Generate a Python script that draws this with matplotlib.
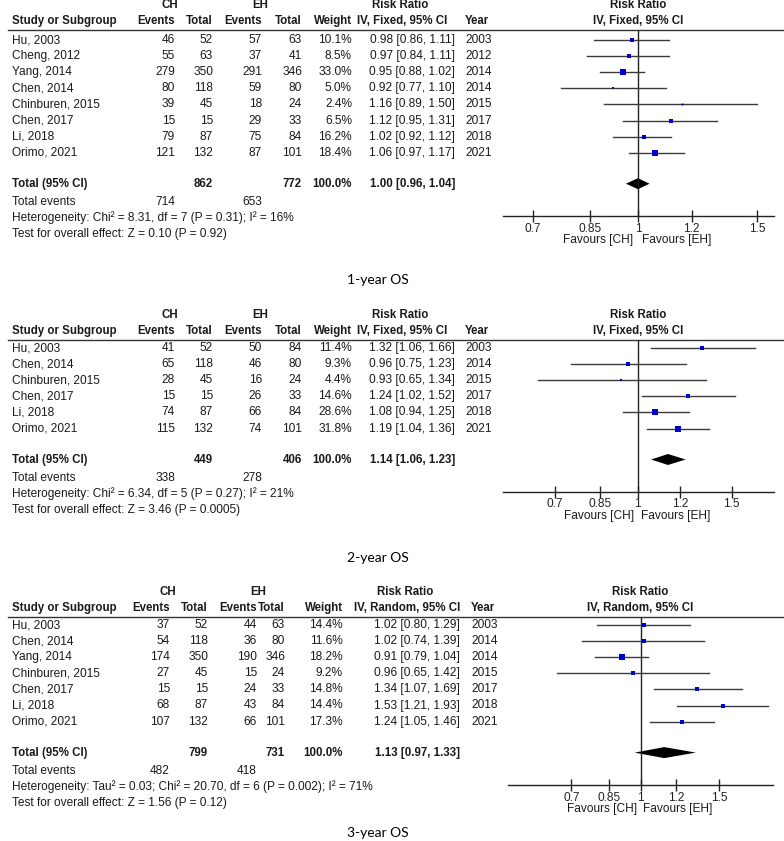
import numpy as np
import matplotlib
matplotlib.use("Agg")
import matplotlib.pyplot as plt
from matplotlib.transforms import blended_transform_factory

plt.rcParams['font.family'] = ['Liberation Sans', 'DejaVu Sans']
plt.rcParams['font.size'] = 8.6

W, H = 784, 841

# ---- data: 1-year OS ----
p1_study = ["Hu, 2003", "Cheng, 2012", "Yang, 2014", "Chen, 2014", "Chinburen, 2015",
            "Chen, 2017", "Li, 2018", "Orimo, 2021"]
p1_ch_ev = [46, 55, 279, 80, 39, 15, 79, 121]
p1_ch_tot = [52, 63, 350, 118, 45, 15, 87, 132]
p1_eh_ev = [57, 37, 291, 59, 18, 29, 75, 87]
p1_eh_tot = [63, 41, 346, 80, 24, 33, 84, 101]
p1_weight = [10.1, 8.5, 33.0, 5.0, 2.4, 6.5, 16.2, 18.4]
p1_rr = [0.98, 0.97, 0.95, 0.92, 1.16, 1.12, 1.02, 1.06]
p1_lo = [0.86, 0.84, 0.88, 0.77, 0.89, 0.95, 0.92, 0.97]
p1_hi = [1.11, 1.11, 1.02, 1.10, 1.50, 1.31, 1.12, 1.17]
p1_year = [2003, 2012, 2014, 2014, 2015, 2017, 2018, 2021]
p1_total = [862, 772, 1.00, 0.96, 1.04]
p1_events = [714, 653]
p1_het = "Heterogeneity: Chi\u00b2 = 8.31, df = 7 (P = 0.31); I\u00b2 = 16%"
p1_test = "Test for overall effect: Z = 0.10 (P = 0.92)"

# ---- data: 2-year OS ----
p2_study = ["Hu, 2003", "Chen, 2014", "Chinburen, 2015", "Chen, 2017", "Li, 2018", "Orimo, 2021"]
p2_ch_ev = [41, 65, 28, 15, 74, 115]
p2_ch_tot = [52, 118, 45, 15, 87, 132]
p2_eh_ev = [50, 46, 16, 26, 66, 74]
p2_eh_tot = [84, 80, 24, 33, 84, 101]
p2_weight = [11.4, 9.3, 4.4, 14.6, 28.6, 31.8]
p2_rr = [1.32, 0.96, 0.93, 1.24, 1.08, 1.19]
p2_lo = [1.06, 0.75, 0.65, 1.02, 0.94, 1.04]
p2_hi = [1.66, 1.23, 1.34, 1.52, 1.25, 1.36]
p2_year = [2003, 2014, 2015, 2017, 2018, 2021]
p2_total = [449, 406, 1.14, 1.06, 1.23]
p2_events = [338, 278]
p2_het = "Heterogeneity: Chi\u00b2 = 6.34, df = 5 (P = 0.27); I\u00b2 = 21%"
p2_test = "Test for overall effect: Z = 3.46 (P = 0.0005)"

# ---- data: 3-year OS ----
p3_study = ["Hu, 2003", "Chen, 2014", "Yang, 2014", "Chinburen, 2015", "Chen, 2017",
            "Li, 2018", "Orimo, 2021"]
p3_ch_ev = [37, 54, 174, 27, 15, 68, 107]
p3_ch_tot = [52, 118, 350, 45, 15, 87, 132]
p3_eh_ev = [44, 36, 190, 15, 24, 43, 66]
p3_eh_tot = [63, 80, 346, 24, 33, 84, 101]
p3_weight = [14.4, 11.6, 18.2, 9.2, 14.8, 14.4, 17.3]
p3_rr = [1.02, 1.02, 0.91, 0.96, 1.34, 1.53, 1.24]
p3_lo = [0.80, 0.74, 0.79, 0.65, 1.07, 1.21, 1.05]
p3_hi = [1.29, 1.39, 1.04, 1.42, 1.69, 1.93, 1.46]
p3_year = [2003, 2014, 2014, 2015, 2017, 2018, 2021]
p3_total = [799, 731, 1.13, 0.97, 1.33]
p3_events = [482, 418]
p3_het = "Heterogeneity: Tau\u00b2 = 0.03; Chi\u00b2 = 20.70, df = 6 (P = 0.002); I\u00b2 = 71%"
p3_test = "Test for overall effect: Z = 1.56 (P = 0.12)"

tick_vals = [0.7, 0.85, 1, 1.2, 1.5]
tick_labels = ["0.7", "0.85", "1", "1.2", "1.5"]

panels = [
    dict(study=p1_study, ch_ev=p1_ch_ev, ch_tot=p1_ch_tot, eh_ev=p1_eh_ev, eh_tot=p1_eh_tot,
         weight=p1_weight, rr=p1_rr, lo=p1_lo, hi=p1_hi, year=p1_year, total=p1_total,
         events=p1_events, het=p1_het, test=p1_test, method="IV, Fixed, 95% CI",
         title="1-year OS", top=5, row0=40, title_y=280, xlim=(0.632, 1.588),
         ax_x=(503, 774), cols=(175, 213, 262, 302, 352, 455, 465), ch_x=170, eh_x=260),
    dict(study=p2_study, ch_ev=p2_ch_ev, ch_tot=p2_ch_tot, eh_ev=p2_eh_ev, eh_tot=p2_eh_tot,
         weight=p2_weight, rr=p2_rr, lo=p2_lo, hi=p2_hi, year=p2_year, total=p2_total,
         events=p2_events, het=p2_het, test=p2_test, method="IV, Fixed, 95% CI",
         title="2-year OS", top=315, row0=348, title_y=558, xlim=(0.56, 1.80),
         ax_x=(503, 774), cols=(175, 213, 262, 302, 352, 455, 465), ch_x=170, eh_x=260),
    dict(study=p3_study, ch_ev=p3_ch_ev, ch_tot=p3_ch_tot, eh_ev=p3_eh_ev, eh_tot=p3_eh_tot,
         weight=p3_weight, rr=p3_rr, lo=p3_lo, hi=p3_hi, year=p3_year, total=p3_total,
         events=p3_events, het=p3_het, test=p3_test, method="IV, Random, 95% CI",
         title="3-year OS", top=592, row0=625, title_y=833, xlim=(0.505, 1.98),
         ax_x=(508, 773), cols=(170, 208, 257, 285, 343, 460, 471), ch_x=168, eh_x=258),
]

fig = plt.figure(figsize=(W / 100, H / 100), dpi=100, facecolor='white')
ov = fig.add_axes([0, 0, 1, 1])
ov.set_xlim(0, W)
ov.set_ylim(H, 0)
ov.axis('off')

txt = '#1a1a1a'
bsz = 8.3
step = 16.1

for p in panels:
    n = len(p['study'])
    top = p['top']
    hdr = top + 16
    line_y = top + 25
    rows = [p['row0'] + i * step for i in range(n)]
    tot_y = rows[-1] + 31
    ev_y = tot_y + 18
    het_y = ev_y + 16
    test_y = het_y + 16
    axis_y = rows[-1] + 63
    c_chev, c_chtot, c_ehev, c_ehtot, c_w, c_rr, c_yr = p['cols']

    # header
    bold = dict(va='center', weight='bold', color=txt, fontsize=bsz)
    ov.text(p['ch_x'], top, "CH", ha='center', **bold)
    ov.text(p['eh_x'], top, "EH", ha='center', **bold)
    ov.text(c_rr - 55, top, "Risk Ratio", ha='center', **bold)
    ax_mid = (p['ax_x'][0] + p['ax_x'][1]) / 2
    ov.text(ax_mid, top, "Risk Ratio", ha='center', **bold)
    ov.text(12, hdr, "Study or Subgroup", ha='left', **bold)
    for x, s in [(c_chev, "Events"), (c_chtot, "Total"), (c_ehev, "Events"),
                 (c_ehtot, "Total"), (c_w, "Weight")]:
        ov.text(x, hdr, s, ha='right', **bold)
    ov.text(c_rr - 53, hdr, p['method'], ha='center', **bold)
    ov.text(c_yr, hdr, "Year", ha='left', **bold)
    ov.text(ax_mid, hdr, p['method'], ha='center', **bold)
    ov.plot([8, W], [line_y, line_y], color='#333333', lw=1)

    # study rows
    for i in range(n):
        y = rows[i]
        ov.text(12, y, p['study'][i], ha='left', va='center', color=txt)
        ov.text(c_chev, y, str(p['ch_ev'][i]), ha='right', va='center', color=txt)
        ov.text(c_chtot, y, str(p['ch_tot'][i]), ha='right', va='center', color=txt)
        ov.text(c_ehev, y, str(p['eh_ev'][i]), ha='right', va='center', color=txt)
        ov.text(c_ehtot, y, str(p['eh_tot'][i]), ha='right', va='center', color=txt)
        ov.text(c_w, y, f"{p['weight'][i]:.1f}%", ha='right', va='center', color=txt)
        ov.text(c_rr, y, f"{p['rr'][i]:.2f} [{p['lo'][i]:.2f}, {p['hi'][i]:.2f}]",
                ha='right', va='center', color=txt)
        ov.text(c_yr, y, str(p['year'][i]), ha='left', va='center', color=txt)

    # totals
    t = p['total']
    ov.text(12, tot_y, "Total (95% CI)", ha='left', **bold)
    ov.text(c_chtot, tot_y, str(t[0]), ha='right', **bold)
    ov.text(c_ehtot, tot_y, str(t[1]), ha='right', **bold)
    ov.text(c_w, tot_y, "100.0%", ha='right', **bold)
    ov.text(c_rr, tot_y, f"{t[2]:.2f} [{t[3]:.2f}, {t[4]:.2f}]", ha='right', **bold)
    ov.text(12, ev_y, "Total events", ha='left', va='center', color=txt)
    ov.text(c_chev, ev_y, str(p['events'][0]), ha='right', va='center', color=txt)
    ov.text(c_ehev, ev_y, str(p['events'][1]), ha='right', va='center', color=txt)
    ov.text(12, het_y, p['het'], ha='left', va='center', color=txt)
    ov.text(12, test_y, p['test'], ha='left', va='center', color=txt)
    ov.text(W / 2 - 14, p['title_y'], p['title'], ha='center', va='center', fontsize=10,
            family=['Lato', 'DejaVu Sans'], color='black')

    # forest plot axes (y in pixel units)
    x0, x1 = p['ax_x']
    ax = fig.add_axes([x0 / W, 1 - axis_y / H, (x1 - x0) / W, (axis_y - line_y) / H])
    ax.patch.set_alpha(0)
    ax.set_xscale('log')
    ax.set_xlim(*p['xlim'])
    ax.set_ylim(axis_y, line_y)
    for s in ['top', 'left', 'right']:
        ax.spines[s].set_visible(False)
    ax.spines['bottom'].set_linewidth(1)
    ax.spines['bottom'].set_color('#222222')
    ax.set_yticks([])
    ax.set_xticks(tick_vals)
    ax.set_xticklabels(tick_labels)
    ax.minorticks_off()
    ax.tick_params(axis='x', direction='inout', length=8, width=1, pad=1, labelsize=8.6,
                   colors='#222222')
    ax.axvline(1, color='#222222', lw=1)

    for i in range(n):
        ax.plot([p['lo'][i], p['hi'][i]], [rows[i], rows[i]], color='#3a3a3a', lw=1)
        side = 1.2 * np.sqrt(p['weight'][i])
        ax.plot(p['rr'][i], rows[i], marker='s', color='#0000cc', ms=side * 0.72, mew=0)
    ax.fill([t[3], t[2], t[4], t[2]], [tot_y, tot_y - 5.5, tot_y, tot_y + 5.5],
            color='black', lw=0)

    tr = blended_transform_factory(ax.transData, ov.transData)
    fav_y = axis_y + 24
    ax.text(0.985, fav_y, "Favours [CH]", transform=tr, ha='right', va='center',
            fontsize=8.6, color=txt, clip_on=False)
    ax.text(1.015, fav_y, "Favours [EH]", transform=tr, ha='left', va='center',
            fontsize=8.6, color=txt, clip_on=False)

fig.savefig("out.png", dpi=100, facecolor='white')
